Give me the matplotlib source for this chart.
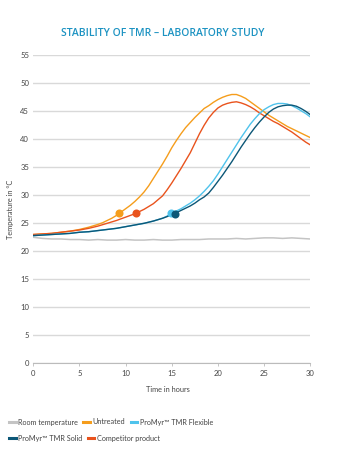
import matplotlib
matplotlib.use("Agg")
import matplotlib.pyplot as plt
from matplotlib.lines import Line2D

plt.rcParams.update({"font.family": ["Lato", "DejaVu Sans"]})

# time axis, half-hour steps 0..30
hours = [i / 2 for i in range(61)]
untreated = [23.0, 23.05, 23.1, 23.15, 23.2, 23.3, 23.4, 23.5, 23.6, 23.75, 23.9, 24.1, 24.3, 24.55, 24.8, 25.1,
             25.5, 25.9, 26.4, 27.0, 27.6, 28.2, 28.9, 29.7, 30.6, 31.7, 33.0, 34.3, 35.6, 37.0, 38.5, 39.8,
             41.0, 42.1, 43.0, 43.9, 44.7, 45.5, 46.0, 46.6, 47.1, 47.5, 47.8, 48.0, 48.0, 47.7, 47.3, 46.7,
             46.1, 45.5, 44.9, 44.3, 43.8, 43.3, 42.8, 42.3, 41.9, 41.5, 41.1, 40.7, 40.3]
competitor = [23.0, 23.05, 23.1, 23.15, 23.2, 23.3, 23.4, 23.5, 23.6, 23.7, 23.8, 23.95, 24.1, 24.3, 24.5, 24.75,
              25.0, 25.25, 25.5, 25.8, 26.1, 26.4, 26.7, 27.1, 27.5, 28.0, 28.5, 29.2, 29.9, 31.0, 32.2, 33.5,
              34.8, 36.2, 37.6, 39.3, 41.0, 42.5, 43.8, 44.8, 45.6, 46.1, 46.4, 46.6, 46.7, 46.5, 46.2, 45.8,
              45.3, 44.7, 44.2, 43.7, 43.2, 42.8, 42.3, 41.8, 41.3, 40.7, 40.1, 39.5, 39.0]
solid = [22.8, 22.85, 22.9, 22.95, 23.0, 23.05, 23.1, 23.15, 23.2, 23.3, 23.4, 23.45, 23.5, 23.6, 23.7, 23.8,
         23.9, 24.0, 24.1, 24.25, 24.4, 24.55, 24.7, 24.85, 25.0, 25.2, 25.4, 25.65, 25.9, 26.2, 26.6, 26.9,
         27.3, 27.7, 28.1, 28.6, 29.2, 29.7, 30.4, 31.4, 32.5, 33.6, 34.8, 36.0, 37.3, 38.6, 39.8, 41.0,
         42.1, 43.1, 44.0, 44.8, 45.4, 45.8, 46.0, 46.1, 46.1, 45.9, 45.5, 45.0, 44.4]
flexible = [22.8, 22.85, 22.9, 22.95, 23.0, 23.05, 23.1, 23.15, 23.2, 23.3, 23.4, 23.45, 23.5, 23.6, 23.7, 23.8,
            23.9, 24.0, 24.1, 24.25, 24.4, 24.55, 24.7, 24.85, 25.0, 25.2, 25.4, 25.65, 25.9, 26.3, 26.8, 27.2,
            27.6, 28.1, 28.6, 29.2, 29.9, 30.7, 31.6, 32.6, 33.8, 35.1, 36.4, 37.7, 39.0, 40.3, 41.5, 42.7,
            43.7, 44.6, 45.3, 45.8, 46.2, 46.4, 46.4, 46.3, 46.0, 45.6, 45.1, 44.6, 44.0]
room_hours = list(range(0, 31))
room = [22.5, 22.3, 22.2, 22.2, 22.1, 22.1, 22.0, 22.1, 22.0, 22.0, 22.1, 22.0, 22.0, 22.1, 22.0, 22.0,
        22.1, 22.1, 22.1, 22.2, 22.2, 22.2, 22.3, 22.2, 22.3, 22.4, 22.4, 22.3, 22.4, 22.3, 22.2]
# marker points (hours, temperature)
mk_untreated = (9.3, 26.8)
mk_competitor = (11.1, 26.8)
mk_flexible = (14.9, 26.8)
mk_solid = (15.3, 26.7)

C_ROOM = "#c4c4c4"; C_UNT = "#f59d1c"; C_FLEX = "#4fc3ec"; C_SOLID = "#0c5777"; C_COMP = "#e9531d"
C_TXT = "#444444"

fig = plt.figure(figsize=(3.43, 4.51), dpi=100)
ax = fig.add_axes([33.3/343, 1-363.3/451, 277/343, (363.3-55.3)/451])

ax.plot(room_hours, room, color=C_ROOM, lw=1.1)
ax.plot(hours, untreated, color=C_UNT, lw=1.0)
ax.plot(hours, competitor, color=C_COMP, lw=1.0)
ax.plot(hours, flexible, color=C_FLEX, lw=1.0)
ax.plot(hours, solid, color=C_SOLID, lw=1.0)
ax.plot(*mk_untreated, "o", color=C_UNT, ms=5.8, mec="none")
ax.plot(*mk_competitor, "o", color=C_COMP, ms=5.8, mec="none")
ax.plot(*mk_flexible, "o", color=C_FLEX, ms=5.8, mec="none")
ax.plot(*mk_solid, "o", color=C_SOLID, ms=5.8, mec="none")

ax.set_xlim(0, 30); ax.set_ylim(0, 55)
ax.set_xticks(range(0, 31, 5)); ax.set_yticks(range(0, 56, 5))
ax.yaxis.grid(True, color="#d9d9d9", lw=1.0); ax.set_axisbelow(True)
for s in ["top", "right", "left"]:
    ax.spines[s].set_visible(False)
ax.spines["bottom"].set_color("#bbbbbb"); ax.spines["bottom"].set_linewidth(0.8)
ax.tick_params(axis="y", length=0, pad=3, labelsize=5.5, labelcolor=C_TXT)
ax.tick_params(axis="x", length=2, width=0.6, color="#bbbbbb", pad=3, labelsize=5.5, labelcolor=C_TXT)

fig.text(163/343, 1-34/451, "STABILITY OF TMR – LABORATORY STUDY", ha="center", va="center",
         fontsize=7.5, fontweight="semibold", color="#1d93c2", family=["Open Sans", "DejaVu Sans"])
fig.text(11/343, 1-209/451, "Temperature in °C", rotation=90, ha="center", va="center", fontsize=5.3, color=C_TXT)
fig.text(168/343, 1-390/451, "Time in hours", ha="center", va="center", fontsize=5.3, color=C_TXT)

def h(c):
    return Line2D([], [], color=c, lw=2.2)

kw = dict(frameon=False, fontsize=5.2, handlelength=0.9, handletextpad=0.4, columnspacing=0.7,
          borderaxespad=0, borderpad=0, labelcolor=C_TXT)
leg1 = fig.legend([h(C_ROOM), h(C_UNT), h(C_FLEX)], ["Room temperature", "Untreated", "ProMyr™ TMR Flexible"],
                  ncol=3, loc="center left", bbox_to_anchor=(9/343, 1-422/451), **kw)
leg2 = fig.legend([h(C_SOLID), h(C_COMP)], ["ProMyr™ TMR Solid", "Competitor product"],
                  ncol=2, loc="center left", bbox_to_anchor=(9/343, 1-438/451), **kw)

fig.savefig("out.png", dpi=100, facecolor="white")
